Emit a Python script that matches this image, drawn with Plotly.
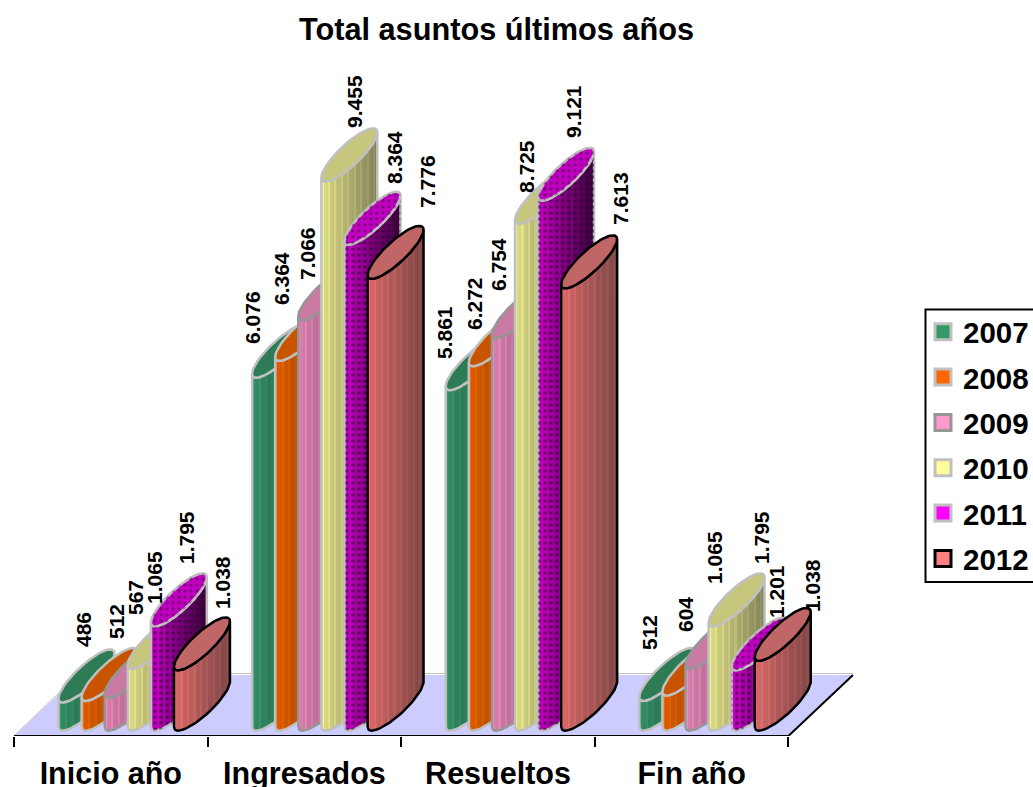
import math
import plotly.graph_objects as go

# ---------- data ----------
TITLE = "Total asuntos últimos años"
CATEGORIES = ["Inicio año", "Ingresados", "Resueltos", "Fin año"]
YEARS = ["2007", "2008", "2009", "2010", "2011", "2012"]
V2007 = [486, 6076, 5861, 512]
V2008 = [512, 6364, 6272, 604]
V2009 = [567, 7066, 6754, 1065]
V2010 = [1065, 9455, 8725, 1795]
V2011 = [1795, 8364, 9121, 1038]
V2012 = [1038, 7776, 7613, 1201]
SERIES = [V2007, V2008, V2009, V2010, V2011, V2012]

# ---------- styles ----------
LEGEND_FILL = ["#339966", "#FF6600", "#FF99CC", "#FFFF99", "#FF00FF", "#FF8080"]
BODY_LEFT = ["#37936A", "#E86000", "#E585B5", "#E8E88C", "#D000D0", "#E46E6E"]
BODY_RIGHT = ["#1F5A3E", "#8F4000", "#8F5A78", "#85855C", "#3A003A", "#824848"]
TOP_FILL = ["#2D7C55", "#C85400", "#C97BA3", "#C6C67C", "#C000C0", "#C06666"]
EDGE = ["#C0C0C0", "#C0C0C0", "#969696", "#C0C0C0", "#C0C0C0", "#000000"]
EDGE_W = 2.5
FONT = "Liberation Sans"

# layout (window pixels; the page's body margin is removed on write)
W, H = 1033, 787
L, R_PX, T_PX, B_PX = 14, 854, 60, 736
CAT_PX = 193.6
Y_SCALE = 0.0581          # px per value unit
BASE_PX = 726.7           # pixel of value 0 at a column's front-left edge
x_max = (R_PX - L) / CAT_PX
y_min = -(B_PX - BASE_PX) / Y_SCALE
y_max = (BASE_PX - T_PX) / Y_SCALE

# column geometry (pixels)
GROUP_START = 44.5
PITCH = 23.1
E_A, E_B, E_C = 14.7, 26.5, 23.8
R_E = math.hypot(E_A, E_C)
T_R = math.atan2(E_C, E_A)
RISE = E_B * E_C / R_E


def ux(px):
    return px / CAT_PX


def uy(px):
    return px / Y_SCALE


def arc(cat, i, val, t0, t1, n=36):
    x0 = cat + ux(GROUP_START + PITCH * i + R_E)
    y0 = val + uy(RISE)
    xs, ys = [], []
    for k in range(n + 1):
        t = t0 + (t1 - t0) * k / n
        xs.append(x0 + ux(E_A * math.cos(t) + E_C * math.sin(t)))
        ys.append(y0 + uy(E_B * math.sin(t)))
    return xs, ys


def hex2rgb(c):
    return [int(c[j:j + 2], 16) for j in (1, 3, 5)]


def stripes(left, right, n=26):
    a, b = hex2rgb(left), hex2rgb(right)
    stops = []
    for k in range(n):
        f0, f1 = k / n, (k + 1) / n
        g = (k + 0.5) / n
        gain = 1.07 if k % 3 == 0 else 0.98
        rgb = [min(255, int((a[j] + (b[j] - a[j]) * g ** 0.8) * gain)) for j in range(3)]
        col = f"rgb({rgb[0]},{rgb[1]},{rgb[2]})"
        stops.append([f0, col])
        stops.append([f1, col])
    return stops


fig = go.Figure()

# floor
fx = [0, 4, ux(853 - L), ux(79 - L), 0]
fy = [y_min, y_min, uy(BASE_PX - 675), uy(BASE_PX - 675), y_min]
fig.add_trace(go.Scatter(x=fx, y=fy, mode="lines", fill="toself", fillcolor="#CCCCFF",
                         line=dict(width=0), hoverinfo="skip", showlegend=False))
fig.add_trace(go.Scatter(x=[0, fx[3], fx[2]], y=[y_min, fy[3] + uy(1.5), fy[2] + uy(1.5)], mode="lines",
                         line=dict(color="#C0C0C0", width=1), hoverinfo="skip", showlegend=False))
fig.add_trace(go.Scatter(x=[0, 4, fx[2]], y=[y_min, y_min, fy[2]], mode="lines", cliponaxis=False,
                         line=dict(color="#000000", width=2), hoverinfo="skip", showlegend=False))

# columns
for c in range(len(CATEGORIES)):
    for i, vals in enumerate(SERIES):
        v = vals[c]
        bx, by = arc(c, i, 0, T_R + math.pi, T_R + 2 * math.pi)
        tx, ty = arc(c, i, v, T_R + 2 * math.pi, T_R + math.pi)
        body_x, body_y = bx + tx + bx[:1], by + ty + by[:1]
        fig.add_trace(go.Scatter(
            x=body_x, y=body_y, mode="lines", fill="toself",
            fillgradient=dict(type="horizontal", colorscale=stripes(BODY_LEFT[i], BODY_RIGHT[i])),
            line=dict(color=EDGE[i], width=EDGE_W),
            name=YEARS[i], showlegend=False, hoverinfo="skip"))
        ex, ey = arc(c, i, v, 0, 2 * math.pi, 72)
        if i == 4:
            fig.add_trace(go.Scatter(
                x=body_x, y=body_y, mode="lines", fill="toself", fillcolor="rgba(0,0,0,0)",
                fillpattern=dict(shape=".", fgcolor="#280028", bgcolor="rgba(0,0,0,0)", size=6, solidity=0.3),
                line=dict(width=0), showlegend=False, hoverinfo="skip"))
        fig.add_trace(go.Scatter(
            x=ex, y=ey, mode="lines", fill="toself", fillcolor=TOP_FILL[i],
            line=dict(color=EDGE[i], width=EDGE_W),
            showlegend=False, hoverinfo="skip"))
        if i == 4:
            fig.add_trace(go.Scatter(
                x=ex, y=ey, mode="lines", fill="toself", fillcolor="rgba(0,0,0,0)",
                fillpattern=dict(shape=".", fgcolor="#500050", bgcolor="rgba(0,0,0,0)", size=6, solidity=0.25),
                line=dict(width=0), showlegend=False, hoverinfo="skip"))

# legend entries
for i, y in enumerate(YEARS):
    fig.add_trace(go.Scatter(
        x=[None], y=[None], mode="markers", name=y, legendgroup=y,
        marker=dict(symbol="square", size=16, color=LEGEND_FILL[i],
                    line=dict(color=EDGE[i], width=3))))

# data labels: label centre pixels per bar, same order as SERIES / CATEGORIES
LABEL_CX = [[84, 117, 135, 155, 187, 223],
            [253, 282, 307, 355, 395, 428],
            [444, 474, 499, 526, 573, 621],
            [650, 685, 715, 762, 813, 777]]
LABEL_CY = [[630, 622, 598, 577, 538, 583],
            [318, 279, 254, 101, 158, 182],
            [333, 304, 265, 167, 112, 199],
            [633, 615, 558, 538, 586, 592]]
for c in range(len(CATEGORIES)):
    for i, vals in enumerate(SERIES):
        v = vals[c]
        x_pt = c + ux(GROUP_START + PITCH * i)
        px_x = L + x_pt * CAT_PX
        px_y = BASE_PX - v * Y_SCALE
        fig.add_annotation(
            x=x_pt, y=v, xref="x", yref="y", showarrow=False, textangle=-90,
            text=f"{v:,}".replace(",", "."),
            font=dict(family=FONT, size=21, color="#000000", weight="bold"),
            xshift=LABEL_CX[c][i] - px_x, yshift=-(LABEL_CY[c][i] - px_y))


def paper_x(px):
    return (px - L) / (R_PX - L)


def paper_y(px):
    return (B_PX - px) / (B_PX - T_PX)


# legend frame: its right side runs off the page
fig.add_shape(type="rect", xref="paper", yref="paper", layer="below",
              x0=paper_x(925.5), x1=paper_x(1045), y0=paper_y(582), y1=paper_y(309.5),
              fillcolor="#FFFFFF", line=dict(color="#000000", width=2))

fig.update_layout(
    width=W, height=H,
    paper_bgcolor="#FFFFFF", plot_bgcolor="rgba(0,0,0,0)",
    margin=dict(l=L, r=W - R_PX, t=T_PX, b=H - B_PX, autoexpand=False),
    font=dict(family=FONT, color="#000000"),
    title=dict(text=TITLE, x=496.5 / W, xanchor="center", y=1 - 29 / H, yanchor="middle",
               font=dict(family=FONT, size=30.7, color="#000000", weight="bold")),
    showlegend=True,
    legend=dict(x=paper_x(923), xanchor="left", y=paper_y(306), yanchor="top",
                bgcolor="rgba(0,0,0,0)", borderwidth=0,
                font=dict(family=FONT, size=29.5, color="#000000", weight="bold"),
                tracegroupgap=4, itemsizing="trace", traceorder="grouped"),
    xaxis=dict(range=[0, x_max], showgrid=False, zeroline=False, showline=False,
               tickmode="array", tickvals=[k + 0.5 for k in range(len(CATEGORIES))],
               ticktext=CATEGORIES, ticks="outside", ticklen=10, tickcolor="rgba(0,0,0,0)",
               tickfont=dict(family=FONT, size=30.5, color="#000000", weight="bold"),
               minor=dict(tickmode="array", tickvals=list(range(len(CATEGORIES) + 1)),
                          ticks="outside", ticklen=10, tickwidth=2, tickcolor="#000000", showgrid=False)),
    yaxis=dict(range=[y_min, y_max], visible=False),
)
fig.write_html("out.html", config={"displayModeBar": False},
               post_script="document.body.style.margin='0';")
